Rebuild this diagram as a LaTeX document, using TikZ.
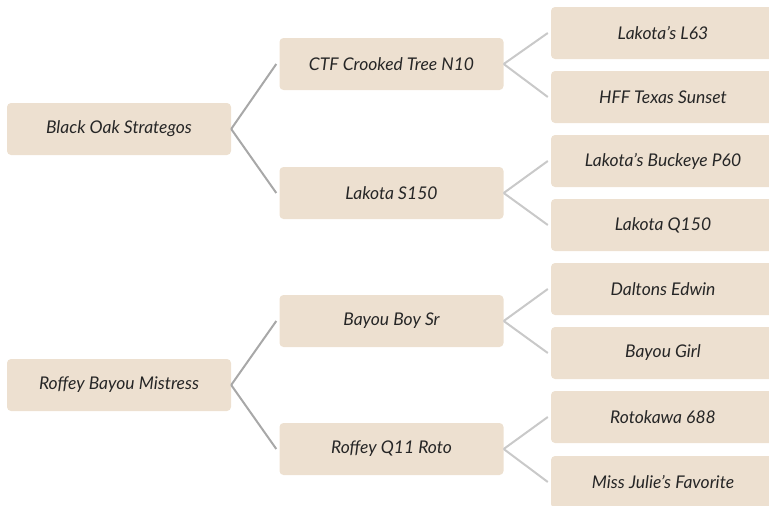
\documentclass[tikz,border=0pt]{standalone}
\usepackage{fontspec}
\setmainfont{Lato}
\usetikzlibrary{positioning}
\definecolor{boxfill}{HTML}{EDE0D0}
\definecolor{textgray}{HTML}{262626}
\definecolor{linkgray}{HTML}{A8A8A8}
\definecolor{sublinkgray}{HTML}{C9C9C9}

\begin{document}
\begin{tikzpicture}[x=1pt,y=-1pt,
        pbox/.style={fill=boxfill, rounded corners=4pt, minimum width=224pt,
            minimum height=52pt, inner sep=0pt, text=textgray,
            font=\itshape\fontsize{17.5}{20}\selectfont},
        link/.style={draw=linkgray, line width=2pt},
        sublink/.style={draw=sublinkgray, line width=2pt}]
    \useasboundingbox (0,0) rectangle (769,506);
    % first generation
    \node[pbox] (bos) at (119,129) {Black Oak Strategos};
    \node[pbox] (rbm) at (119,385) {Roffey Bayou Mistress};
    % second generation
    \node[pbox] (ctf) at (391.5,64) {CTF Crooked Tree N10};
    \node[pbox] (ls150) at (391.5,193) {Lakota S150};
    \node[pbox] (bbsr) at (391.5,321) {Bayou Boy Sr};
    \node[pbox] (rq11) at (391.5,449) {Roffey Q11 Roto};
    % third generation
    \node[pbox] (l63) at (663,33) {Lakota's L63};
    \node[pbox] (hff) at (663,97) {HFF Texas Sunset};
    \node[pbox] (lbp60) at (663,161) {Lakota's Buckeye P60};
    \node[pbox] (lq150) at (663,225) {Lakota Q150};
    \node[pbox] (dedwin) at (663,289) {Daltons Edwin};
    \node[pbox] (bgirl) at (663,353) {Bayou Girl};
    \node[pbox] (r688) at (663,417) {Rotokawa 688};
    \node[pbox] (mjf) at (663,482) {Miss Julie's Favorite};
    \foreach \p/\c in {bos/ctf, bos/ls150, rbm/bbsr, rbm/rq11}
        \draw[link] (\p.east) -- ([xshift=-3pt]\c.west);
    \foreach \p/\c in {ctf/l63, ctf/hff, ls150/lbp60, ls150/lq150,
                       bbsr/dedwin, bbsr/bgirl, rq11/r688, rq11/mjf}
        \draw[sublink] (\p.east) -- ([xshift=-3pt]\c.west);
\end{tikzpicture}
\end{document}
